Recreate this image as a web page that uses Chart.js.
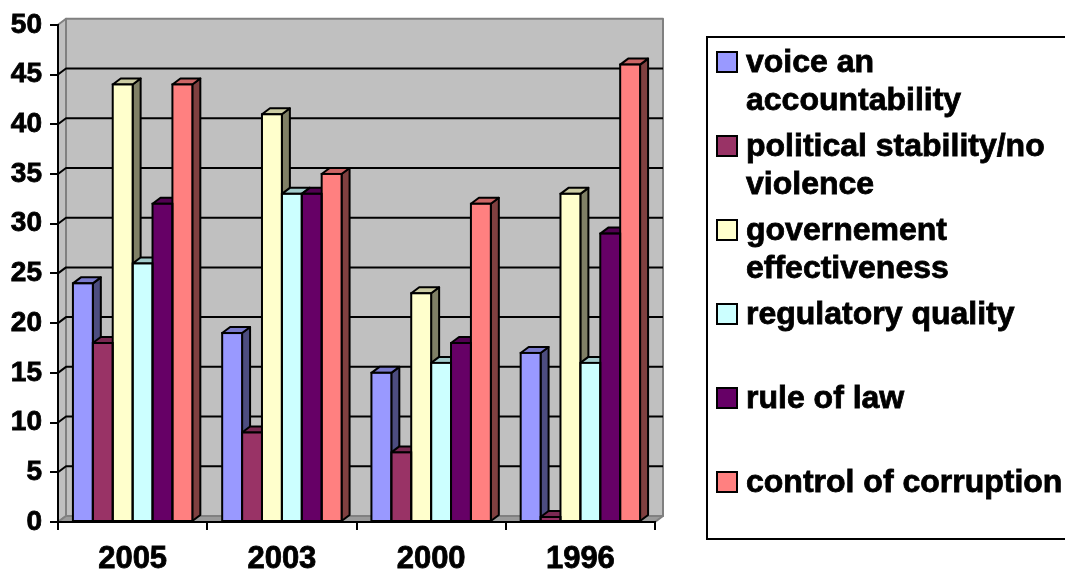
<!DOCTYPE html>
<html>
<head>
<meta charset="utf-8">
<title>Governance indicators</title>
<script src="https://cdn.jsdelivr.net/npm/chart.js@4.4.1/dist/chart.umd.min.js"></script>
<style>
  html, body { margin: 0; padding: 0; background: #ffffff; overflow: hidden; }
  canvas { display: block; }
</style>
</head>
<body>
<canvas id="chart" width="1065" height="576"></canvas>
<script>
// Survey years on the category axis
const categories = ['2005', '2003', '2000', '1996'];

// Percentile scores per indicator, one value per year
const voiceAccountability = [24, 19, 15, 17];
const politicalStability  = [18, 9, 7, 0.5];
const govEffectiveness    = [44, 41, 23, 33];
const regulatoryQuality   = [26, 33, 16, 16];
const ruleOfLaw           = [32, 33, 18, 29];
const controlCorruption   = [44, 35, 32, 46];

// Value axis
const yMin = 0, yMax = 50, yStep = 5;

const seriesNames = [
  'voice an accountability',
  'political stability/no violence',
  'governement effectiveness',
  'regulatory quality',
  'rule of law',
  'control of corruption'
];
const seriesValues = [
  voiceAccountability, politicalStability, govEffectiveness,
  regulatoryQuality, ruleOfLaw, controlCorruption
];

// Face colours: front, right side, top
const frontColors = ['#9999ff', '#993366', '#ffffcc', '#ccffff', '#660066', '#ff8080'];
const sideColors  = ['#4d4d80', '#4d1a33', '#808066', '#668080', '#330033', '#804040'];
const topColors   = ['#7a7acc', '#7a2952', '#cccca3', '#a3cccc', '#520052', '#cc6666'];

// Depth of the oblique projection in pixels
const DX = 8, DY = 6;
const FONT = '"Liberation Sans", Arial, sans-serif';

function poly(ctx, pts, fill) {
  ctx.beginPath();
  ctx.moveTo(pts[0][0], pts[0][1]);
  for (let k = 1; k < pts.length; k++) ctx.lineTo(pts[k][0], pts[k][1]);
  ctx.closePath();
  ctx.fillStyle = fill;
  ctx.fill();
  ctx.stroke();
}

// Back wall, side wall, floor and gridlines behind the bars
const wallsPlugin = {
  id: 'walls',
  beforeDraw(chart) {
    const { ctx, chartArea: a, scales: { y } } = chart;
    ctx.save();
    ctx.lineJoin = 'round';
    ctx.strokeStyle = '#808080';
    ctx.lineWidth = 2;
    // back wall
    ctx.fillStyle = '#c0c0c0';
    ctx.fillRect(a.left + DX, a.top - DY, a.right - a.left, a.bottom - a.top);
    ctx.strokeRect(a.left + DX, a.top - DY, a.right - a.left, a.bottom - a.top);
    // left wall
    poly(ctx, [[a.left, a.top], [a.left + DX, a.top - DY], [a.left + DX, a.bottom - DY], [a.left, a.bottom]], '#c0c0c0');
    // floor
    poly(ctx, [[a.left, a.bottom], [a.left + DX, a.bottom - DY], [a.right + DX, a.bottom - DY], [a.right, a.bottom]], '#9a9a9a');
    // gridlines across the side wall and the back wall
    ctx.strokeStyle = '#000000';
    ctx.lineWidth = 2;
    y.ticks.forEach(t => {
      if (t.value <= yMin || t.value >= yMax) return;
      const py = y.getPixelForValue(t.value);
      ctx.beginPath();
      ctx.moveTo(a.left, py);
      ctx.lineTo(a.left + DX, py - DY);
      ctx.lineTo(a.right + DX, py - DY);
      ctx.stroke();
    });
    ctx.restore();
  },
  // right sides and tops of the columns, painted left to right
  beforeDatasetsDraw(chart) {
    const ctx = chart.ctx;
    ctx.save();
    ctx.strokeStyle = '#000000';
    ctx.lineWidth = 2;
    ctx.lineJoin = 'round';
    const nCat = chart.data.labels.length;
    const nSet = chart.data.datasets.length;
    for (let j = 0; j < nCat; j++) {
      for (let i = 0; i < nSet; i++) {
        const el = chart.getDatasetMeta(i).data[j];
        const { x, y, base, width } = el.getProps(['x', 'y', 'base', 'width'], true);
        const L = x - width / 2, R = x + width / 2;
        poly(ctx, [[R, y], [R + DX, y - DY], [R + DX, base - DY], [R, base]], sideColors[i]);
        poly(ctx, [[L, y], [L + DX, y - DY], [R + DX, y - DY], [R, y]], topColors[i]);
      }
    }
    ctx.restore();
  },
  // outlines of the front faces
  afterDatasetsDraw(chart) {
    const ctx = chart.ctx;
    ctx.save();
    ctx.strokeStyle = '#000000';
    ctx.lineWidth = 2;
    chart.data.datasets.forEach((ds, i) => {
      chart.getDatasetMeta(i).data.forEach(el => {
        const { x, y, base, width } = el.getProps(['x', 'y', 'base', 'width'], true);
        ctx.strokeRect(x - width / 2, y, width, base - y);
      });
    });
    ctx.restore();
  }
};

// Boxed legend on the right with wrapped entries; the box runs off the right edge
const legendPlugin = {
  id: 'boxLegend',
  afterDraw(chart) {
    const ctx = chart.ctx;
    const boxL = 707, boxT = 37, boxB = 539, boxR = chart.width + 20;
    const swX = 717, textX = 746, firstBase = 72, entryStep = 84, lineStep = 38, maxW = 318;
    ctx.save();
    ctx.strokeStyle = '#000000';
    ctx.lineWidth = 2;
    ctx.beginPath();
    ctx.moveTo(boxR, boxT);
    ctx.lineTo(boxL, boxT);
    ctx.lineTo(boxL, boxB);
    ctx.lineTo(boxR, boxB);
    ctx.stroke();
    ctx.font = 'bold 32px ' + FONT;
    ctx.textBaseline = 'alphabetic';
    ctx.textAlign = 'left';
    seriesNames.forEach((name, i) => {
      const base = firstBase + i * entryStep;
      // wrap the label into lines that fit the box
      const words = name.split(' ');
      const lines = [];
      let cur = '';
      words.forEach(w => {
        const test = cur ? cur + ' ' + w : w;
        if (cur && ctx.measureText(test).width > maxW) { lines.push(cur); cur = w; }
        else cur = test;
      });
      if (cur) lines.push(cur);
      ctx.lineWidth = 2;
      ctx.fillStyle = frontColors[i];
      ctx.fillRect(swX, base - 20, 20, 20);
      ctx.strokeRect(swX, base - 20, 20, 20);
      ctx.fillStyle = '#000000';
      ctx.lineWidth = 0.8;
      lines.forEach((ln, k) => {
        ctx.fillText(ln, textX, base + k * lineStep);
        ctx.strokeText(ln, textX, base + k * lineStep);
      });
    });
    ctx.restore();
  }
};

const datasets = seriesNames.map((name, i) => ({
  label: name,
  data: seriesValues[i],
  backgroundColor: frontColors[i],
  borderWidth: 0,
  categoryPercentage: 0.8,
  barPercentage: 1.0
}));

new Chart(document.getElementById('chart'), {
  type: 'bar',
  data: { labels: categories, datasets },
  plugins: [wallsPlugin, legendPlugin],
  options: {
    responsive: false,
    devicePixelRatio: 1,
    animation: false,
    layout: { padding: { top: 18, right: 410, bottom: 0, left: 0 } },
    plugins: { legend: { display: false }, tooltip: { enabled: false } },
    scales: {
      x: {
        grid: { offset: true, drawOnChartArea: false, drawTicks: true, tickLength: 8, color: '#000000', lineWidth: 2 },
        border: { display: true, color: '#000000', width: 2 },
        ticks: {
          color: '#000000', font: { family: FONT, size: 31, weight: 'bold' }, padding: 11, maxRotation: 0,
          textStrokeColor: '#000000', textStrokeWidth: 0.8
        },
        afterFit(scale) { scale.height = 54; }
      },
      y: {
        min: yMin, max: yMax,
        grid: { drawOnChartArea: false, drawTicks: true, tickLength: 8, color: '#000000', lineWidth: 2 },
        border: { display: true, color: '#000000', width: 2 },
        ticks: {
          stepSize: yStep, color: '#000000', font: { family: FONT, size: 28, weight: 'bold' }, padding: 8,
          textStrokeColor: '#000000', textStrokeWidth: 0.8
        },
        afterFit(scale) { scale.width = 58; }
      }
    }
  }
});
</script>
</body>
</html>
